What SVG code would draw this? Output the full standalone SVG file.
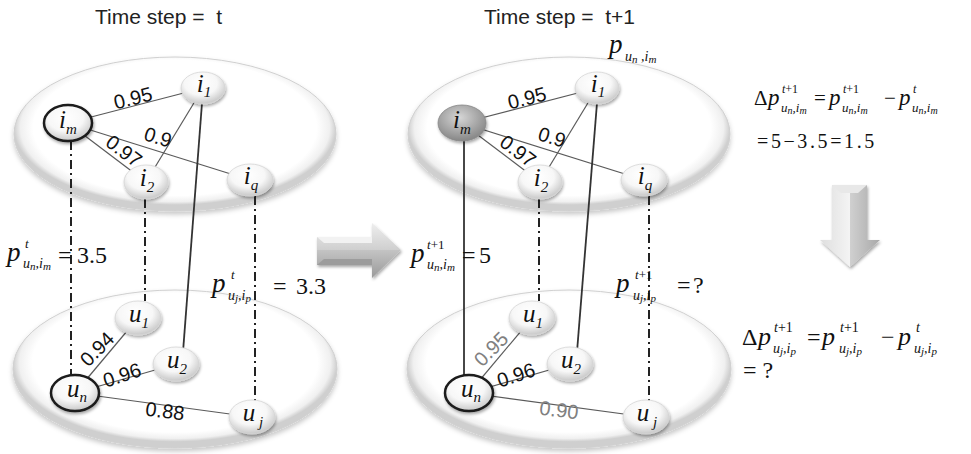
<svg xmlns="http://www.w3.org/2000/svg" width="971" height="454" viewBox="0 0 971 454">
<defs>
<radialGradient id="disc" cx="50%" cy="46%" r="50%">
<stop offset="0" stop-color="#ffffff"/>
<stop offset="0.88" stop-color="#ffffff"/>
<stop offset="0.96" stop-color="#f0f0f0"/>
<stop offset="1" stop-color="#cfcfcf"/>
</radialGradient>
<radialGradient id="node" cx="45%" cy="35%" r="62%">
<stop offset="0" stop-color="#ffffff"/>
<stop offset="0.6" stop-color="#f7f7f7"/>
<stop offset="1" stop-color="#cdcdcd"/>
</radialGradient>
<radialGradient id="nodeG" cx="45%" cy="35%" r="62%">
<stop offset="0" stop-color="#d6d6d6"/>
<stop offset="1" stop-color="#8a8a8a"/>
</radialGradient>
<linearGradient id="aTop" x1="0" y1="0" x2="0" y2="1">
<stop offset="0" stop-color="#eeeeee"/>
<stop offset="1" stop-color="#cfcfcf"/>
</linearGradient>
<linearGradient id="aBot" x1="0" y1="0" x2="0" y2="1">
<stop offset="0" stop-color="#c4c4c4"/>
<stop offset="1" stop-color="#9a9a9a"/>
</linearGradient>
<linearGradient id="dL" x1="0" y1="0" x2="1" y2="0">
<stop offset="0" stop-color="#dedede"/>
<stop offset="1" stop-color="#f4f4f4"/>
</linearGradient>
<linearGradient id="dR" x1="0" y1="0" x2="1" y2="0">
<stop offset="0" stop-color="#d0d0d0"/>
<stop offset="1" stop-color="#a8a8a8"/>
</linearGradient>
<filter id="sh" x="-30%" y="-30%" width="170%" height="180%">
<feDropShadow dx="1" dy="2" stdDeviation="1.5" flood-color="#000" flood-opacity="0.35"/>
</filter>
<filter id="dsh" x="-10%" y="-10%" width="120%" height="130%">
<feDropShadow dx="0" dy="3" stdDeviation="2.5" flood-color="#000" flood-opacity="0.22"/>
</filter>
</defs>
<style>
.hdr{font-family:"Liberation Sans",Arial,sans-serif;font-size:21px;fill:#222;white-space:pre}
.w{font-family:"Liberation Sans",Arial,sans-serif;font-size:20px;fill:#111}
.wg{fill:#808080}
.m{font-family:"Liberation Serif","Times New Roman",serif;font-style:italic;fill:#111}
.r{font-family:"Liberation Serif","Times New Roman",serif;fill:#111}
.lab{font-size:25px}
.sb{font-size:15px}
.e{stroke:#5a5a5a;stroke-width:1.2;fill:none}
.t{stroke:#333;stroke-width:1.8;fill:none}
.dd{stroke:#222;stroke-width:2;stroke-dasharray:9 4 2 4;fill:none}
.disc{fill:url(#disc);stroke:#d0d0d0;stroke-width:1;filter:url(#dsh)}
.n{fill:url(#node);stroke:#d5d5d5;stroke-width:0.8;filter:url(#sh)}
.nd{fill:url(#node);stroke:#1a1a1a;stroke-width:2.5;filter:url(#sh)}
.ng{fill:url(#nodeG);stroke:#888;stroke-width:0.8;filter:url(#sh)}
</style>

<!-- headers -->
<text class="hdr" x="95" y="24">Time step =  t</text>
<text class="hdr" x="484" y="24">Time step =  t+1</text>

<!-- discs -->
<g id="discs">
<ellipse class="disc" cx="175" cy="134" rx="161" ry="77"/>
<ellipse class="disc" cx="175" cy="369" rx="162" ry="79"/>
<ellipse class="disc" cx="569" cy="134" rx="161" ry="77"/>
<ellipse class="disc" cx="569" cy="369" rx="162" ry="79"/>
</g>

<!-- connectors -->
<g id="connectors">
<line class="e" x1="68" y1="123" x2="203" y2="88"/>
<line class="e" x1="68" y1="123" x2="250" y2="180"/>
<line class="e" x1="68" y1="123" x2="146" y2="182"/>
<line class="e" x1="203" y1="88" x2="146" y2="182"/>
<line class="t" x1="202" y1="103" x2="183" y2="352"/>
<line class="dd" x1="71" y1="141" x2="71" y2="377"/>
<line class="dd" x1="145" y1="199" x2="145" y2="301"/>
<line class="dd" x1="255" y1="196" x2="255" y2="401"/>
<line class="e" x1="75" y1="393" x2="138" y2="318"/>
<line class="e" x1="75" y1="393" x2="176" y2="364"/>
<line class="e" x1="75" y1="393" x2="252" y2="417"/>

<line class="e" x1="462" y1="123" x2="597" y2="88"/>
<line class="e" x1="462" y1="123" x2="644" y2="180"/>
<line class="e" x1="462" y1="123" x2="540" y2="182"/>
<line class="e" x1="597" y1="88" x2="540" y2="182"/>
<line class="t" x1="597" y1="103" x2="577" y2="352"/>
<line class="t" x1="464" y1="138" x2="464" y2="377"/>
<line class="dd" x1="539" y1="199" x2="539" y2="301"/>
<line class="dd" x1="649" y1="196" x2="649" y2="401"/>
<line class="e" x1="469" y1="393" x2="532" y2="318"/>
<line class="e" x1="469" y1="393" x2="570" y2="364"/>
<line class="e" x1="469" y1="393" x2="646" y2="417"/>
</g>

<!-- edge weights -->
<g id="weights" class="w" text-anchor="middle" dominant-baseline="central">
<text x="133" y="98" transform="rotate(-14 133 98)">0.95</text>
<text x="158" y="137" transform="rotate(17 158 137)">0.9</text>
<text x="124" y="151" transform="rotate(37 124 151)">0.97</text>
<text x="97" y="349" transform="rotate(-45 97 349)">0.94</text>
<text x="122" y="375" transform="rotate(-18 122 375)">0.96</text>
<text x="165" y="411" transform="rotate(7 165 411)">0.88</text>

<text x="527" y="98" transform="rotate(-14 527 98)">0.95</text>
<text x="552" y="137" transform="rotate(17 552 137)">0.9</text>
<text x="518" y="151" transform="rotate(37 518 151)">0.97</text>
<text class="wg" x="491" y="349" transform="rotate(-45 491 349)">0.95</text>
<text x="516" y="375" transform="rotate(-18 516 375)">0.96</text>
<text class="wg" x="559" y="410" transform="rotate(7 559 410)">0.90</text>
</g>

<!-- nodes left -->
<g id="L-im"><ellipse class="nd" cx="68" cy="123" rx="24" ry="18"/><text class="m lab" x="68" y="128" text-anchor="middle">i<tspan class="sb" dy="6">m</tspan></text></g>
<g id="L-i1"><ellipse class="n" cx="203" cy="88" rx="22" ry="16"/><text class="m lab" x="204" y="92" text-anchor="middle">i<tspan class="sb" dy="5">1</tspan></text></g>
<g id="L-i2"><ellipse class="n" cx="146" cy="182" rx="22" ry="17"/><text class="m lab" x="147" y="186" text-anchor="middle">i<tspan class="sb" dy="6">2</tspan></text></g>
<g id="L-iq"><ellipse class="n" cx="250" cy="180" rx="23" ry="16"/><text class="m lab" x="251" y="184" text-anchor="middle">i<tspan class="sb" dy="6">q</tspan></text></g>
<g id="L-u1"><ellipse class="n" cx="138" cy="318" rx="23" ry="17"/><text class="m lab" x="139" y="322" text-anchor="middle">u<tspan class="sb" dy="6">1</tspan></text></g>
<g id="L-u2"><ellipse class="n" cx="176" cy="364" rx="23" ry="17"/><text class="m lab" x="177" y="368" text-anchor="middle">u<tspan class="sb" dy="6">2</tspan></text></g>
<g id="L-un"><ellipse class="nd" cx="75" cy="393" rx="24" ry="18"/><text class="m lab" x="77" y="397" text-anchor="middle">u<tspan class="sb" dy="5">n</tspan></text></g>
<g id="L-uj"><ellipse class="n" cx="252" cy="417" rx="23" ry="17"/><text class="m lab" x="253" y="421" text-anchor="middle">u<tspan class="sb" dy="6"> j</tspan></text></g>

<!-- nodes right -->
<g id="R-im"><ellipse class="ng" cx="462" cy="123" rx="24" ry="18"/><text class="m lab" x="462" y="128" text-anchor="middle">i<tspan class="sb" dy="6">m</tspan></text></g>
<g id="R-i1"><ellipse class="n" cx="597" cy="88" rx="22" ry="16"/><text class="m lab" x="598" y="92" text-anchor="middle">i<tspan class="sb" dy="5">1</tspan></text></g>
<g id="R-i2"><ellipse class="n" cx="540" cy="182" rx="22" ry="17"/><text class="m lab" x="541" y="186" text-anchor="middle">i<tspan class="sb" dy="6">2</tspan></text></g>
<g id="R-iq"><ellipse class="n" cx="644" cy="180" rx="23" ry="16"/><text class="m lab" x="645" y="184" text-anchor="middle">i<tspan class="sb" dy="6">q</tspan></text></g>
<g id="R-u1"><ellipse class="n" cx="532" cy="318" rx="23" ry="17"/><text class="m lab" x="533" y="322" text-anchor="middle">u<tspan class="sb" dy="6">1</tspan></text></g>
<g id="R-u2"><ellipse class="n" cx="570" cy="364" rx="23" ry="17"/><text class="m lab" x="571" y="368" text-anchor="middle">u<tspan class="sb" dy="6">2</tspan></text></g>
<g id="R-un"><ellipse class="nd" cx="469" cy="393" rx="24" ry="18"/><text class="m lab" x="471" y="397" text-anchor="middle">u<tspan class="sb" dy="5">n</tspan></text></g>
<g id="R-uj"><ellipse class="n" cx="646" cy="417" rx="23" ry="17"/><text class="m lab" x="647" y="421" text-anchor="middle">u<tspan class="sb" dy="6"> j</tspan></text></g>

<!-- arrows -->
<g id="arrow-right" filter="url(#sh)">
<polygon points="317,237 372,237 372,223 401,250 317,250" fill="url(#aTop)"/>
<polygon points="317,250 401,250 372,278 372,265 317,265" fill="url(#aBot)"/>
<polygon points="317,237 372,237 372,243 324,243" fill="#f2f2f2"/>
<polygon points="317,265 372,265 372,259 324,259" fill="#9c9c9c"/>
</g>
<g id="arrow-down" filter="url(#sh)">
<polygon points="832,185 850,185 850,267 820,240 832,240" fill="url(#dL)"/>
<polygon points="850,185 867,185 867,240 880,240 850,267" fill="url(#dR)"/>
<polygon points="832,185 867,185 858,193 841,193" fill="#e8e8e8"/>
</g>

<!-- math labels -->
<g id="lbl-left-a">
<text class="m" x="7" y="261" font-size="27">p</text>
<text class="m" x="25" y="248" font-size="13">t</text>
<text class="m" x="23" y="268" font-size="14">u<tspan font-size="11" dy="2">n</tspan><tspan dy="-2">,i</tspan><tspan font-size="11" dy="2">m</tspan></text>
<text class="r" x="58" y="263" font-size="24">=</text>
<text class="r" x="77" y="263" font-size="24">3.5</text>
</g>
<g id="lbl-left-b">
<text class="m" x="212" y="292" font-size="27">p</text>
<text class="m" x="231" y="279" font-size="13">t</text>
<text class="m" x="228" y="300" font-size="14">u<tspan font-size="11" dy="2">j</tspan><tspan dy="-2">,i</tspan><tspan font-size="11" dy="2">p</tspan></text>
<text class="r" x="273" y="294" font-size="24">=</text>
<text class="r" x="296" y="294" font-size="24">3.3</text>
</g>
<g id="lbl-right-top">
<text class="m" x="609" y="53" font-size="27">p</text>
<text class="m" x="625" y="61" font-size="14">u<tspan font-size="11" dy="2">n</tspan><tspan dy="-2"> ,i</tspan><tspan font-size="11" dy="2">m</tspan></text>
</g>
<g id="lbl-right-a">
<text class="m" x="411" y="262" font-size="27">p</text>
<text class="m" x="427" y="249" font-size="13">t<tspan font-style="normal">+1</tspan></text>
<text class="m" x="427" y="269" font-size="14">u<tspan font-size="11" dy="2">n</tspan><tspan dy="-2">,i</tspan><tspan font-size="11" dy="2">m</tspan></text>
<text class="r" x="462" y="263" font-size="24">=</text>
<text class="r" x="479" y="263" font-size="24">5</text>
</g>
<g id="lbl-right-b">
<text class="m" x="616" y="292" font-size="27">p</text>
<text class="m" x="635" y="279" font-size="13">t<tspan font-style="normal">+1</tspan></text>
<text class="m" x="633" y="300" font-size="14">u<tspan font-size="11" dy="2">j</tspan><tspan dy="-2">,i</tspan><tspan font-size="11" dy="2">p</tspan></text>
<text class="r" x="677" y="293" font-size="24">=</text>
<text class="r" x="693" y="293" font-size="24">?</text>
</g>

<g id="formula-1">
<text class="r" x="754" y="105" font-size="21">Δ</text>
<text class="m" x="768" y="105" font-size="23">p</text>
<text class="m" x="782" y="93" font-size="12">t<tspan font-style="normal">+1</tspan></text>
<text class="m" x="781" y="112" font-size="13">u<tspan font-size="10" dy="2">n</tspan><tspan dy="-2">,i</tspan><tspan font-size="10" dy="2">m</tspan></text>
<text class="r" x="814" y="105" font-size="21">=</text>
<text class="m" x="829" y="105" font-size="23">p</text>
<text class="m" x="843" y="93" font-size="12">t<tspan font-style="normal">+1</tspan></text>
<text class="m" x="842" y="112" font-size="13">u<tspan font-size="10" dy="2">n</tspan><tspan dy="-2">,i</tspan><tspan font-size="10" dy="2">m</tspan></text>
<text class="r" x="884" y="105" font-size="21">−</text>
<text class="m" x="899" y="105" font-size="23">p</text>
<text class="m" x="913" y="93" font-size="12">t</text>
<text class="m" x="912" y="112" font-size="13">u<tspan font-size="10" dy="2">n</tspan><tspan dy="-2">,i</tspan><tspan font-size="10" dy="2">m</tspan></text>
<text class="r" x="757" y="148" font-size="20" letter-spacing="2.6">=5−3.5=1.5</text>
</g>
<g id="formula-2">
<text class="r" x="742" y="345" font-size="24">Δ</text>
<text class="m" x="758" y="345" font-size="26">p</text>
<text class="m" x="774" y="332" font-size="14">t<tspan font-style="normal">+1</tspan></text>
<text class="m" x="773" y="353" font-size="14">u<tspan font-size="11" dy="2">j</tspan><tspan dy="-2">,i</tspan><tspan font-size="11" dy="2">p</tspan></text>
<text class="r" x="807" y="345" font-size="24">=</text>
<text class="m" x="822" y="345" font-size="26">p</text>
<text class="m" x="840" y="332" font-size="14">t<tspan font-style="normal">+1</tspan></text>
<text class="m" x="839" y="353" font-size="14">u<tspan font-size="11" dy="2">j</tspan><tspan dy="-2">,i</tspan><tspan font-size="11" dy="2">p</tspan></text>
<text class="r" x="881" y="345" font-size="24">−</text>
<text class="m" x="898" y="345" font-size="26">p</text>
<text class="m" x="916" y="332" font-size="14">t</text>
<text class="m" x="914" y="353" font-size="14">u<tspan font-size="11" dy="2">j</tspan><tspan dy="-2">,i</tspan><tspan font-size="11" dy="2">p</tspan></text>
<text class="r" x="743" y="378" font-size="24">= ?</text>
</g>
</svg>
